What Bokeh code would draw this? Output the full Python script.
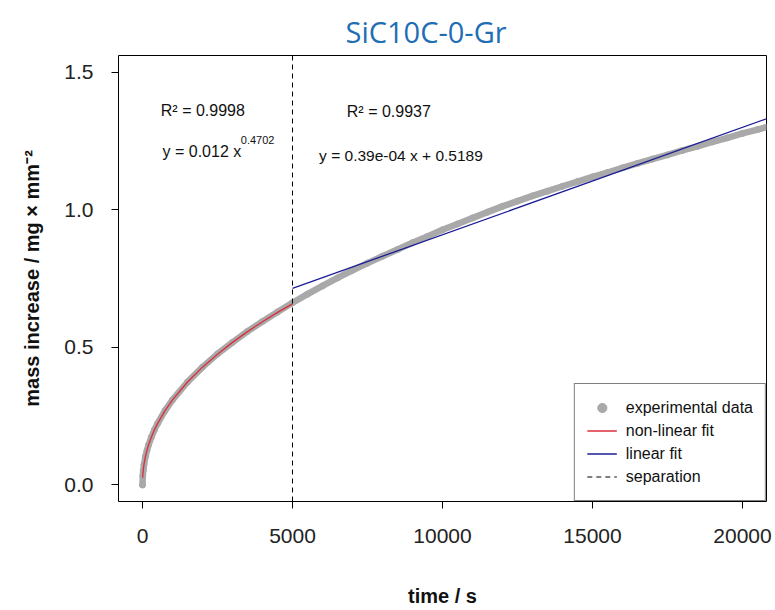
from bokeh.plotting import figure
from bokeh.models import Range1d, FixedTicker, Label, Legend, LegendItem
from bokeh.embed import file_html
from bokeh.resources import INLINE

# ---------------- data ----------------
TITLE = "SiC10C-0-Gr"
X_TICKS = [0, 5000, 10000, 15000, 20000]
X_TICK_LABELS = ["0", "5000", "10000", "15000", "20000"]
Y_TICKS = [0.0, 0.5, 1.0, 1.5]
Y_TICK_LABELS = ["0.0", "0.5", "1.0", "1.5"]

# experimental data: time / s and mass increase / mg mm^-2
exp_time = [0, 10, 25, 50, 100, 150, 200, 300, 400, 500, 750, 1000, 1500, 2000,
            2500, 3000, 3500, 4000, 4500, 5000, 5500, 6000, 6500, 7000, 7500,
            8000, 8500, 9000, 9500, 10000, 10500, 11000, 11500, 12000, 12500,
            13000, 13500, 14000, 14500, 15000, 15500, 16000, 16500, 17000,
            17500, 18000, 18500, 19000, 19500, 20000, 20500, 21000]
exp_mass = [0.000, 0.033, 0.053, 0.074, 0.104, 0.126, 0.145, 0.175, 0.201, 0.223,
            0.270, 0.309, 0.374, 0.428, 0.476, 0.518, 0.558, 0.594, 0.628, 0.662,
            0.693, 0.723, 0.752, 0.780, 0.806, 0.831, 0.855, 0.880, 0.903, 0.927,
            0.948, 0.970, 0.991, 1.012, 1.031, 1.050, 1.067, 1.085, 1.102, 1.119,
            1.135, 1.152, 1.168, 1.184, 1.199, 1.215, 1.230, 1.246, 1.261, 1.277,
            1.291, 1.306]

# non-linear fit (y = 0.012 x^0.4702)
nl_time = [5, 10, 25, 50, 100, 150, 200, 300, 400, 500, 750, 1000, 1500, 2000,
           2500, 3000, 3500, 4000, 4500, 5000]
nl_mass = [0.026, 0.035, 0.055, 0.076, 0.105, 0.127, 0.145, 0.175, 0.201, 0.223,
           0.270, 0.309, 0.374, 0.428, 0.475, 0.518, 0.557, 0.593, 0.627, 0.658]

# linear fit (y = 0.39e-04 x + 0.5189), end points
lin_time = [5000, 21000]
lin_mass = [0.714, 1.338]

SEPARATION = 5000
X_LIMITS = (-800, 20800)
Y_LIMITS = (-0.06, 1.56)

LEGEND_LABELS = ["experimental data", "non-linear fit", "linear fit", "separation"]

# ---------------- styling ----------------
FONT = "Liberation Sans"
GREY = "#a9a9a9"
RED = "#dc2d3a"
BLUE = "#1c1c96"

p = figure(width=775, height=610, output_backend="svg", toolbar_location=None,
           x_range=Range1d(*X_LIMITS), y_range=Range1d(*Y_LIMITS),
           min_border_left=118, min_border_right=9, min_border_top=55,
           min_border_bottom=109, title=TITLE)

p.title.text_font = "Open Sans"
p.title.text_font_size = "29px"
p.title.text_font_style = "normal"
p.title.text_color = "#1f6eb4"
p.title.align = "left"
p.title.offset = 227
p.title.standoff = 10

p.xgrid.visible = False
p.ygrid.visible = False
p.background_fill_color = "white"
p.border_fill_color = "white"
p.outline_line_color = "black"
p.outline_line_width = 1
p.outline_line_alpha = 1.0

for ax in (p.xaxis[0], p.yaxis[0]):
    ax.axis_line_color = None
    ax.major_tick_out = 7
    ax.major_tick_in = 0
    ax.minor_tick_line_color = None
    ax.major_tick_line_color = "black"
    ax.major_label_text_font = FONT
    ax.major_label_text_font_size = "21px"
    ax.major_label_text_color = "#222222"
    ax.axis_label_text_font = FONT
    ax.axis_label_text_font_size = "20px"
    ax.axis_label_text_font_style = "bold"
    ax.axis_label_text_color = "#111111"

p.xaxis.ticker = FixedTicker(ticks=X_TICKS)
p.xaxis.major_label_overrides = dict(zip(X_TICKS, X_TICK_LABELS))
p.yaxis.ticker = FixedTicker(ticks=Y_TICKS)
p.yaxis.major_label_overrides = dict(zip(Y_TICKS, Y_TICK_LABELS))
p.xaxis.major_label_standoff = 20
p.yaxis.major_label_standoff = 18
p.xaxis.axis_label = "time / s"
p.yaxis.axis_label = "mass increase / mg × mm⁻²"
p.xaxis.axis_label_standoff = 39
p.yaxis.axis_label_standoff = 18

# experimental data: dense grey band
p.line(exp_time, exp_mass, line_color=GREY, line_width=6.5, line_cap="round",
       line_join="round")
r_exp = p.scatter(exp_time, exp_mass, marker="circle", size=6,
                  fill_color=GREY, line_color=GREY)

r_nl = p.line(nl_time, nl_mass, line_color=RED, line_width=1.3)
r_lin = p.line(lin_time, lin_mass, line_color=BLUE, line_width=1.3)
r_sep = p.line([SEPARATION, SEPARATION], list(Y_LIMITS), line_color="black",
               line_width=1, line_dash="5 4")

legend = Legend(items=[LegendItem(label=LEGEND_LABELS[0], renderers=[r_exp]),
                       LegendItem(label=LEGEND_LABELS[1], renderers=[r_nl]),
                       LegendItem(label=LEGEND_LABELS[2], renderers=[r_lin]),
                       LegendItem(label=LEGEND_LABELS[3], renderers=[r_sep])],
                location="bottom_right", margin=0, padding=12, spacing=0,
                glyph_width=30, glyph_height=23, label_height=23,
                label_standoff=9, label_text_font=FONT,
                label_text_font_size="16px", label_text_color="#111111",
                border_line_color="black", border_line_width=1,
                background_fill_color="white", background_fill_alpha=1.0)
p.add_layout(legend)

# annotations
ANNOT = [
    ("R² = 0.9998", 610, 1.359, "16px"),
    ("y = 0.012 x", 667, 1.213, "16px"),
    ("0.4702", 3277, 1.253, "11px"),
    ("R² = 0.9937", 6810, 1.356, "16px"),
    ("y = 0.39e-04 x + 0.5189", 5887, 1.198, "15.5px"),
]
for txt, ax_, ay_, fs in ANNOT:
    p.add_layout(Label(x=ax_, y=ay_, text=txt, text_font=FONT,
                       text_font_size=fs, text_color="#111111",
                       text_baseline="alphabetic", text_align="left"))

open("out.html", "w").write(file_html(p, INLINE))
